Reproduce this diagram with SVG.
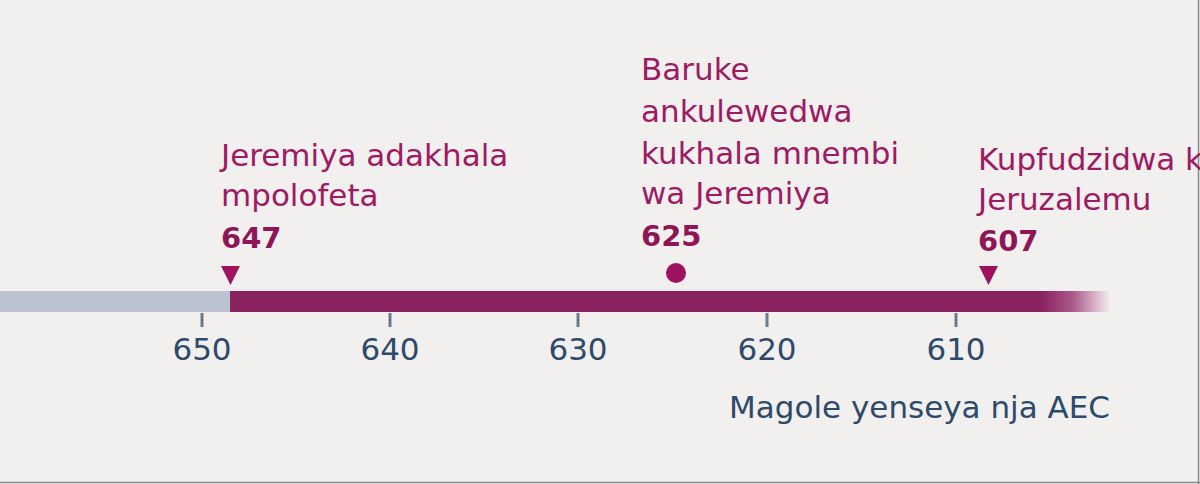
<svg xmlns="http://www.w3.org/2000/svg" width="1200" height="484" viewBox="0 0 1200 484">
<style>
.ev{font-family:"DejaVu Sans","Liberation Sans",sans-serif;font-size:31px;fill:#9e1b63}
.yr{font-family:"DejaVu Sans","Liberation Sans",sans-serif;font-size:29px;font-weight:bold;fill:#8e1656}
.tk{font-family:"DejaVu Sans","Liberation Sans",sans-serif;font-size:31px;fill:#2d4a6b}
.tick{stroke:#6d7a88;stroke-width:3}
.mk{fill:#9e125e}
</style>
<defs>
<linearGradient id="fade" x1="0" x2="1" y1="0" y2="0">
<stop offset="0" stop-color="#8b2361"/>
<stop offset="0.2" stop-color="#8b2361"/>
<stop offset="0.55" stop-color="#a95888"/>
<stop offset="1" stop-color="#f6f1f3"/>
</linearGradient>
</defs>
<rect width="1200" height="484" fill="#f1f0ef"/>
<line x1="1198.5" y1="0" x2="1198.5" y2="484" stroke="#8a8a8a" stroke-width="1.5"/>
<line x1="0" y1="482.5" x2="1200" y2="482.5" stroke="#8a8a8a" stroke-width="1.5"/>
<g id="axis">
<rect x="0" y="291" width="231" height="21" fill="#bbc2d0"/>
<rect x="230" y="291" width="800" height="21" fill="#8b2361"/>
<rect x="1025" y="291" width="86" height="21" fill="url(#fade)"/>
<line class="tick" x1="202" y1="313" x2="202" y2="327"/>
<line class="tick" x1="390" y1="313" x2="390" y2="327"/>
<line class="tick" x1="578" y1="313" x2="578" y2="327"/>
<line class="tick" x1="767" y1="313" x2="767" y2="327"/>
<line class="tick" x1="956" y1="313" x2="956" y2="327"/>
<text class="tk" x="202" y="360" text-anchor="middle">650</text>
<text class="tk" x="390" y="360" text-anchor="middle">640</text>
<text class="tk" x="578" y="360" text-anchor="middle">630</text>
<text class="tk" x="767" y="360" text-anchor="middle">620</text>
<text class="tk" x="956" y="360" text-anchor="middle">610</text>
<text class="tk" x="1110" y="418" text-anchor="end">Magole yenseya nja AEC</text>
</g>
<g id="event-647">
<text class="ev" x="221" y="166">Jeremiya adakhala</text>
<text class="ev" x="221" y="206">mpolofeta</text>
<text class="yr" x="221" y="248">647</text>
<polygon class="mk" points="221,266 240,266 230.5,285"/>
</g>
<g id="event-625">
<text class="ev" x="641" y="80">Baruke</text>
<text class="ev" x="641" y="122">ankulewedwa</text>
<text class="ev" x="641" y="164">kukhala mnembi</text>
<text class="ev" x="641" y="204">wa Jeremiya</text>
<text class="yr" x="641" y="246">625</text>
<circle class="mk" cx="676" cy="273" r="10"/>
</g>
<g id="event-607">
<text class="ev" x="978" y="170">Kupfudzidwa kwa</text>
<text class="ev" x="978" y="210">Jeruzalemu</text>
<text class="yr" x="978" y="251">607</text>
<polygon class="mk" points="979,266 998,266 988.5,285"/>
</g>
</svg>
